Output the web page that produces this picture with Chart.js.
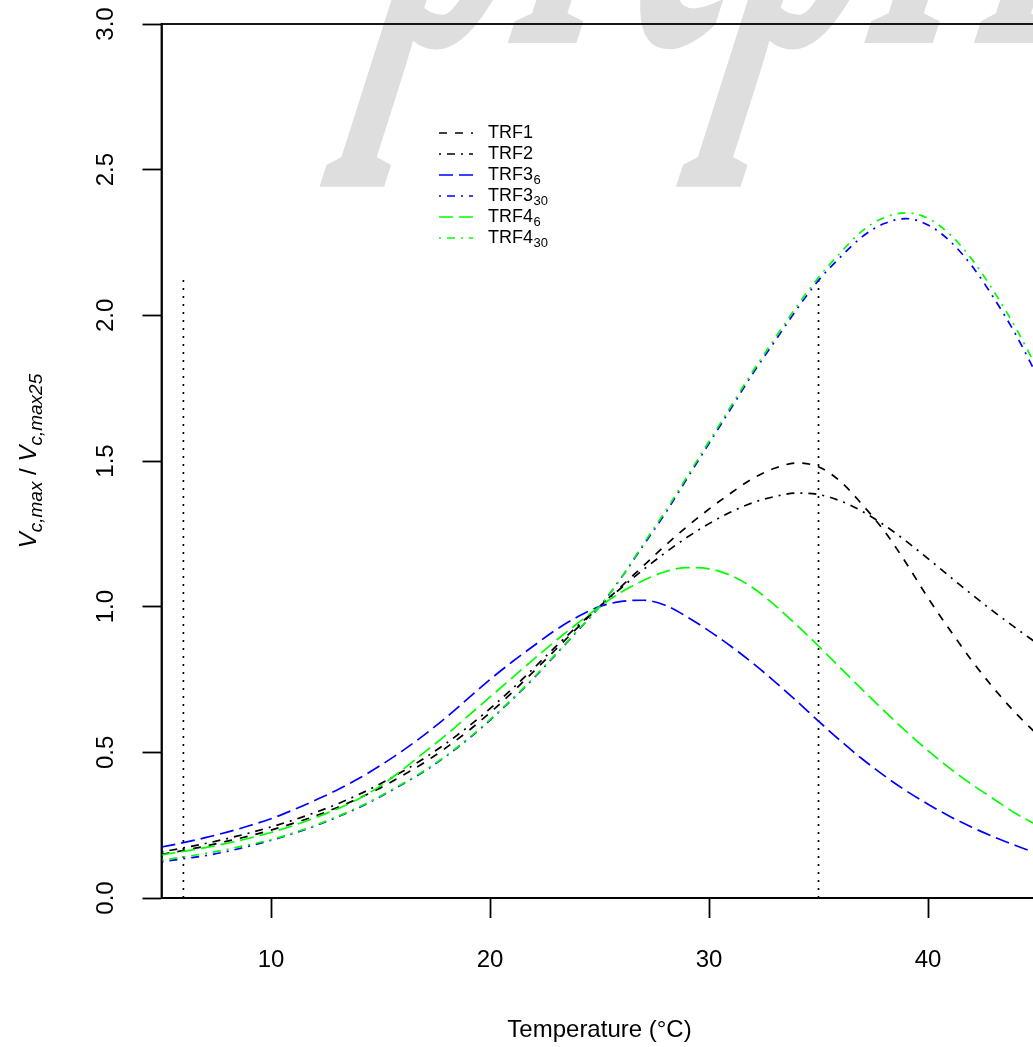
<!DOCTYPE html>
<html>
<head>
<meta charset="utf-8">
<title>Vcmax temperature response</title>
<script src="https://cdn.jsdelivr.net/npm/chart.js"></script>
<style>
  html, body { margin: 0; padding: 0; background: #fff; overflow: hidden; }
  #wrap { width: 1060px; height: 1047px; }
</style>
</head>
<body>
<div id="wrap"><canvas id="trf-chart" width="1060" height="1047"></canvas></div>
<script>
// temperatures (degC) and normalised Vcmax for each response function
const tempC = [5, 6, 7, 8, 9, 10, 11, 12, 13, 14, 15, 16, 17, 18, 19, 20, 21, 22, 23, 24, 25,
               26, 27, 28, 29, 30, 31, 32, 33, 34, 35, 36, 37, 38, 39, 40, 41, 42, 43, 44, 45];

const trf1 = [0.150, 0.163, 0.178, 0.195, 0.213, 0.233, 0.256, 0.281, 0.310, 0.342, 0.378,
              0.420, 0.465, 0.516, 0.573, 0.636, 0.705, 0.778, 0.853, 0.928, 1.000,
              1.070, 1.140, 1.210, 1.275, 1.335, 1.390, 1.440, 1.475, 1.493, 1.480,
              1.430, 1.350, 1.260, 1.150, 1.030, 0.920, 0.815, 0.720, 0.635, 0.560];

const trf2 = [0.158, 0.172, 0.187, 0.204, 0.223, 0.244, 0.267, 0.293, 0.322, 0.355, 0.392,
              0.434, 0.480, 0.531, 0.588, 0.650, 0.717, 0.789, 0.863, 0.934, 1.000,
              1.065, 1.127, 1.185, 1.238, 1.285, 1.325, 1.357, 1.378, 1.390, 1.385,
              1.363, 1.327, 1.280, 1.225, 1.165, 1.103, 1.042, 0.983, 0.927, 0.873];

const trf3_6 = [0.175, 0.190, 0.207, 0.226, 0.248, 0.272, 0.302, 0.335, 0.370, 0.410, 0.455,
                0.505, 0.560, 0.620, 0.685, 0.750, 0.810, 0.866, 0.920, 0.965, 1.000,
                1.018, 1.022, 1.005, 0.965, 0.917, 0.864, 0.806, 0.743, 0.676, 0.607,
                0.540, 0.477, 0.420, 0.368, 0.322, 0.280, 0.243, 0.210, 0.180, 0.153];

const trf3_30 = [0.124, 0.135, 0.145, 0.160, 0.178, 0.198, 0.221, 0.247, 0.277, 0.310, 0.348,
                 0.390, 0.435, 0.487, 0.545, 0.610, 0.680, 0.755, 0.835, 0.917, 1.000,
                 1.100, 1.210, 1.320, 1.440, 1.560, 1.680, 1.800, 1.910, 2.020, 2.120,
                 2.200, 2.270, 2.315, 2.332, 2.310, 2.255, 2.170, 2.060, 1.935, 1.790];

const trf4_6 = [0.148, 0.160, 0.173, 0.188, 0.205, 0.225, 0.248, 0.275, 0.305, 0.340, 0.385,
                0.440, 0.500, 0.560, 0.625, 0.690, 0.755, 0.820, 0.883, 0.943, 1.000,
                1.050, 1.090, 1.120, 1.134, 1.130, 1.107, 1.065, 1.005, 0.937, 0.865,
                0.790, 0.715, 0.642, 0.572, 0.506, 0.445, 0.390, 0.340, 0.290, 0.250];

const trf4_30 = [0.130, 0.141, 0.153, 0.167, 0.183, 0.200, 0.223, 0.249, 0.279, 0.312, 0.350,
                 0.392, 0.437, 0.489, 0.547, 0.612, 0.682, 0.757, 0.837, 0.918, 1.000,
                 1.100, 1.215, 1.327, 1.447, 1.567, 1.688, 1.808, 1.920, 2.030, 2.130,
                 2.215, 2.290, 2.335, 2.352, 2.333, 2.278, 2.193, 2.083, 1.958, 1.815];

const seriesNames = ['TRF1', 'TRF2', 'TRF3', 'TRF3', 'TRF4', 'TRF4'];
const seriesSubs = ['', '', '6', '30', '6', '30'];

// dotted reference lines (growth temperatures)
const refTemps = [6, 35];
const refTops = [2.13, 2.13];

const xTicks = [10, 20, 30, 40];
const yTicks = [0, 0.5, 1.0, 1.5, 2.0, 2.5, 3.0];

// styles, kept apart from the data
const lineColors = ['#000000', '#000000', '#0000ff', '#0000ff', '#00ff00', '#00ff00'];
const lineDashes = [[8, 8], [2, 6, 8, 6], [14, 6], [2, 6, 8, 6], [14, 6], [2, 6, 8, 6]];
const FONT = '"Liberation Sans", Arial, Helvetica, sans-serif';

const curves = [trf1, trf2, trf3_6, trf3_30, trf4_6, trf4_30];
const datasets = curves.map((vals, i) => ({
    label: seriesNames[i] + seriesSubs[i],
    data: tempC.map((t, j) => ({ x: t, y: vals[j] })),
    borderColor: lineColors[i],
    borderDash: lineDashes[i],
    borderWidth: 1.7,
    pointRadius: 0,
    fill: false,
    cubicInterpolationMode: 'monotone',
    order: curves.length - i
}));
refTemps.forEach((t, i) => {
    datasets.push({
        label: 'ref' + t,
        data: [{ x: t, y: 0 }, { x: t, y: refTops[i] }],
        borderColor: '#000000',
        borderDash: [2, 6],
        borderWidth: 1.7,
        pointRadius: 0,
        fill: false,
        order: 10
    });
});

// faint watermark behind the plot
const watermark = {
    id: 'watermark',
    beforeDraw(chart) {
        const ctx = chart.ctx;
        ctx.save();
        ctx.fillStyle = '#dedede';
        ctx.font = 'bold 250px "Liberation Serif", serif';
        ctx.transform(1, 0, -0.86, 2.7, 362, 43);
        ctx.textBaseline = 'alphabetic';
        ctx.fillText('preprint', 0, 0);
        ctx.restore();
    }
};

// box, legend and y axis title (needs subscripts)
const decorations = {
    id: 'decorations',
    afterDraw(chart) {
        const ctx = chart.ctx;
        const a = chart.chartArea;
        ctx.save();
        ctx.strokeStyle = '#000';
        ctx.lineWidth = 1.8;
        ctx.setLineDash([]);
        ctx.strokeRect(a.left, a.top, a.right - a.left, a.bottom - a.top);

        // legend
        const lx0 = 439, lx1 = 473, tx = 488, ly0 = 133, dy = 21;
        ctx.textBaseline = 'middle';
        ctx.textAlign = 'left';
        seriesNames.forEach((name, i) => {
            const y = ly0 + i * dy;
            ctx.strokeStyle = lineColors[i];
            ctx.lineWidth = 1.7;
            ctx.setLineDash(lineDashes[i]);
            ctx.beginPath();
            ctx.moveTo(lx0, y);
            ctx.lineTo(lx1, y);
            ctx.stroke();
            ctx.setLineDash([]);
            ctx.fillStyle = '#000';
            ctx.font = '18px ' + FONT;
            ctx.fillText(name, tx, y);
            if (seriesSubs[i]) {
                const w = ctx.measureText(name).width;
                ctx.font = '13px ' + FONT;
                ctx.fillText(seriesSubs[i], tx + w + 0.5, y + 5);
            }
        });

        // y axis title
        const parts = [
            { t: 'V', font: 'italic 24px ' + FONT, dy: 0 },
            { t: 'c,max', font: 'italic 19px ' + FONT, dy: 6 },
            { t: ' / ', font: '24px ' + FONT, dy: 0 },
            { t: 'V', font: 'italic 24px ' + FONT, dy: 0 },
            { t: 'c,max25', font: 'italic 19px ' + FONT, dy: 6 }
        ];
        let total = 0;
        parts.forEach(p => { ctx.font = p.font; p.w = ctx.measureText(p.t).width; total += p.w; });
        ctx.translate(36, (a.top + a.bottom) / 2);
        ctx.rotate(-Math.PI / 2);
        ctx.textBaseline = 'alphabetic';
        ctx.fillStyle = '#000';
        let x = -total / 2;
        parts.forEach(p => { ctx.font = p.font; ctx.fillText(p.t, x, p.dy); x += p.w; });
        ctx.restore();
    }
};

new Chart(document.getElementById('trf-chart'), {
    type: 'line',
    data: { datasets: datasets },
    options: {
        responsive: false,
        animation: false,
        layout: { padding: { left: 0, right: 22.5, top: 24, bottom: 0 } },
        plugins: {
            legend: { display: false },
            tooltip: { enabled: false }
        },
        scales: {
            x: {
                type: 'linear',
                min: 5,
                max: 45,
                afterBuildTicks: s => { s.ticks = xTicks.map(v => ({ value: v })); },
                afterFit: s => { s.height = 149; s.paddingLeft = 0; s.paddingRight = 0; },
                grid: { drawOnChartArea: false, drawTicks: true, tickLength: 20, tickColor: '#000', tickWidth: 1.8 },
                border: { display: true, color: '#000', width: 1.8 },
                ticks: { color: '#000', font: { family: FONT, size: 24 }, padding: 28, maxRotation: 0, autoSkip: false },
                title: {
                    display: true,
                    text: 'Temperature (\u00B0C)',
                    color: '#000',
                    font: { family: FONT, size: 24 },
                    padding: { top: 0, bottom: 2 }
                }
            },
            y: {
                type: 'linear',
                min: 0,
                max: 3,
                afterBuildTicks: s => { s.ticks = yTicks.map(v => ({ value: v })); },
                afterFit: s => { s.width = 161.5; s.paddingTop = 0; s.paddingBottom = 0; },
                grid: { drawOnChartArea: false, drawTicks: true, tickLength: 19, tickColor: '#000', tickWidth: 1.8 },
                border: { display: true, color: '#000', width: 1.8 },
                ticks: {
                    color: '#000',
                    font: { family: FONT, size: 24 },
                    minRotation: 90,
                    maxRotation: 90,
                    crossAlign: 'center',
                    padding: 19,
                    autoSkip: false,
                    callback: v => Number(v).toFixed(1)
                }
            }
        }
    },
    plugins: [watermark, decorations]
});
</script>
</body>
</html>
